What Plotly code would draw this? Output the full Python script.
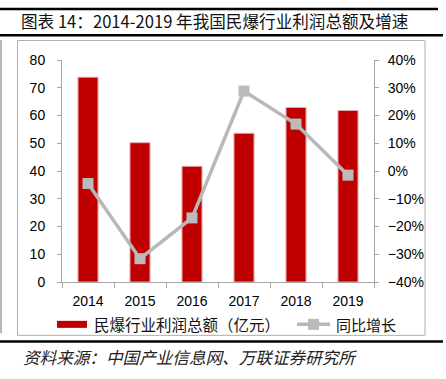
import plotly.graph_objects as go

years = ["2014", "2015", "2016", "2017", "2018", "2019"]
profit = [73.8, 50.2, 41.7, 53.6, 62.9, 61.8]
growth = [-0.045, -0.316, -0.169, 0.288, 0.169, -0.015]

title_text = "图表 14：2014-2019 年我国民爆行业利润总额及增速"
source_text = "资料来源：中国产业信息网、万联证券研究所"
legend_bar = "民爆行业利润总额（亿元）"
legend_line = "同比增长"

W, H = 446, 379
L, R, T, B = 62, 374, 60, 281.7

def px(x):
    return (x - L) / (R - L)

def py(y):
    return (B - y) / (B - T)

num_font = dict(family="Liberation Sans, Arial, sans-serif", size=14, color="#000000")
cjk = "Noto Sans CJK SC, sans-serif"

fig = go.Figure()
fig.add_trace(go.Bar(
    x=years, y=profit, name=legend_bar, yaxis="y",
    marker=dict(color="#C00000", line=dict(color="#E8A8A8", width=1)),
    showlegend=False,
))
fig.add_trace(go.Scatter(
    x=years, y=growth, name=legend_line, yaxis="y2", mode="lines+markers",
    line=dict(color="#B8B8B8", width=3.5),
    marker=dict(symbol="square", size=11, color="#BBBBBB"),
    showlegend=False,
))

axis_col = "#A6A6A6"
fig.update_layout(
    width=W, height=H,
    margin=dict(l=L, r=W - R, t=T, b=H - B, pad=0),
    paper_bgcolor="white", plot_bgcolor="white",
    bargap=0.615,
    xaxis=dict(
        type="category", showgrid=False, showline=True, linecolor=axis_col, linewidth=1,
        ticks="outside", tickson="boundaries", ticklen=5, tickcolor=axis_col,
        tickfont=num_font, ticklabelstandoff=6,
    ),
    yaxis=dict(
        range=[0, 80], dtick=10, showgrid=False, zeroline=False,
        showline=True, linecolor=axis_col, linewidth=1,
        ticks="outside", ticklen=4, tickcolor=axis_col, tickfont=num_font,
        ticklabelstandoff=9,
    ),
    yaxis2=dict(
        range=[-0.4, 0.4], dtick=0.1, tickformat=".0%", overlaying="y", side="right",
        showgrid=False, zeroline=False, showline=True, linecolor=axis_col, linewidth=1,
        ticks="outside", ticklen=4, tickcolor=axis_col, tickfont=num_font,
        ticklabelstandoff=6,
    ),
    showlegend=False,
)

shapes = []
# header / footer rules
shapes.append(dict(type="line", xref="paper", yref="paper", x0=px(0), x1=px(438), y0=py(9), y1=py(9),
                   line=dict(color="#000000", width=2.5)))
shapes.append(dict(type="line", xref="paper", yref="paper", x0=px(0), x1=px(443), y0=py(35.3), y1=py(35.3),
                   line=dict(color="#000000", width=2.5)))
shapes.append(dict(type="line", xref="paper", yref="paper", x0=px(0), x1=px(443), y0=py(341), y1=py(341),
                   line=dict(color="#000000", width=2.5)))
# chart box
shapes.append(dict(type="rect", xref="paper", yref="paper", x0=px(17.5), x1=px(425), y0=py(40.5), y1=py(335),
                   line=dict(color="#B0B0B0", width=1)))
# left edge line
shapes.append(dict(type="line", xref="paper", yref="paper", x0=px(1), x1=px(1), y0=py(40), y1=py(333),
                   line=dict(color="#A0A0A0", width=1.5)))
# legend swatches
shapes.append(dict(type="rect", xref="paper", yref="paper", x0=px(57), x1=px(87), y0=py(320.5), y1=py(327.5),
                   line=dict(width=0), fillcolor="#C00000"))
shapes.append(dict(type="line", xref="paper", yref="paper", x0=px(297), x1=px(330), y0=py(324), y1=py(324),
                   line=dict(color="#B8B8B8", width=3.5)))
shapes.append(dict(type="rect", xref="paper", yref="paper", x0=px(308), x1=px(319), y0=py(318.5), y1=py(329.5),
                   line=dict(width=0), fillcolor="#BBBBBB"))

annotations = [
    dict(text=title_text, xref="paper", yref="paper", x=px(19), y=py(21.5), xanchor="left", yanchor="middle",
         showarrow=False, font=dict(family=cjk, size=16.6, color="#111111")),
    dict(text=source_text, xref="paper", yref="paper", x=px(21), y=py(357), xanchor="left", yanchor="middle",
         showarrow=False, font=dict(family=cjk, size=16.6, color="#222222", style="italic")),
    dict(text=legend_bar, xref="paper", yref="paper", x=px(92), y=py(324), xanchor="left", yanchor="middle",
         showarrow=False, font=dict(family=cjk, size=15.5, color="#111111")),
    dict(text=legend_line, xref="paper", yref="paper", x=px(334), y=py(324), xanchor="left", yanchor="middle",
         showarrow=False, font=dict(family=cjk, size=15, color="#111111")),
]
fig.update_layout(shapes=shapes, annotations=annotations)

fig.write_html(
    "out.html",
    config={"displayModeBar": False},
    post_script="document.body.style.margin='0px';document.body.style.padding='0px';"
                "document.body.style.overflow='hidden';document.documentElement.style.overflow='hidden';",
)
